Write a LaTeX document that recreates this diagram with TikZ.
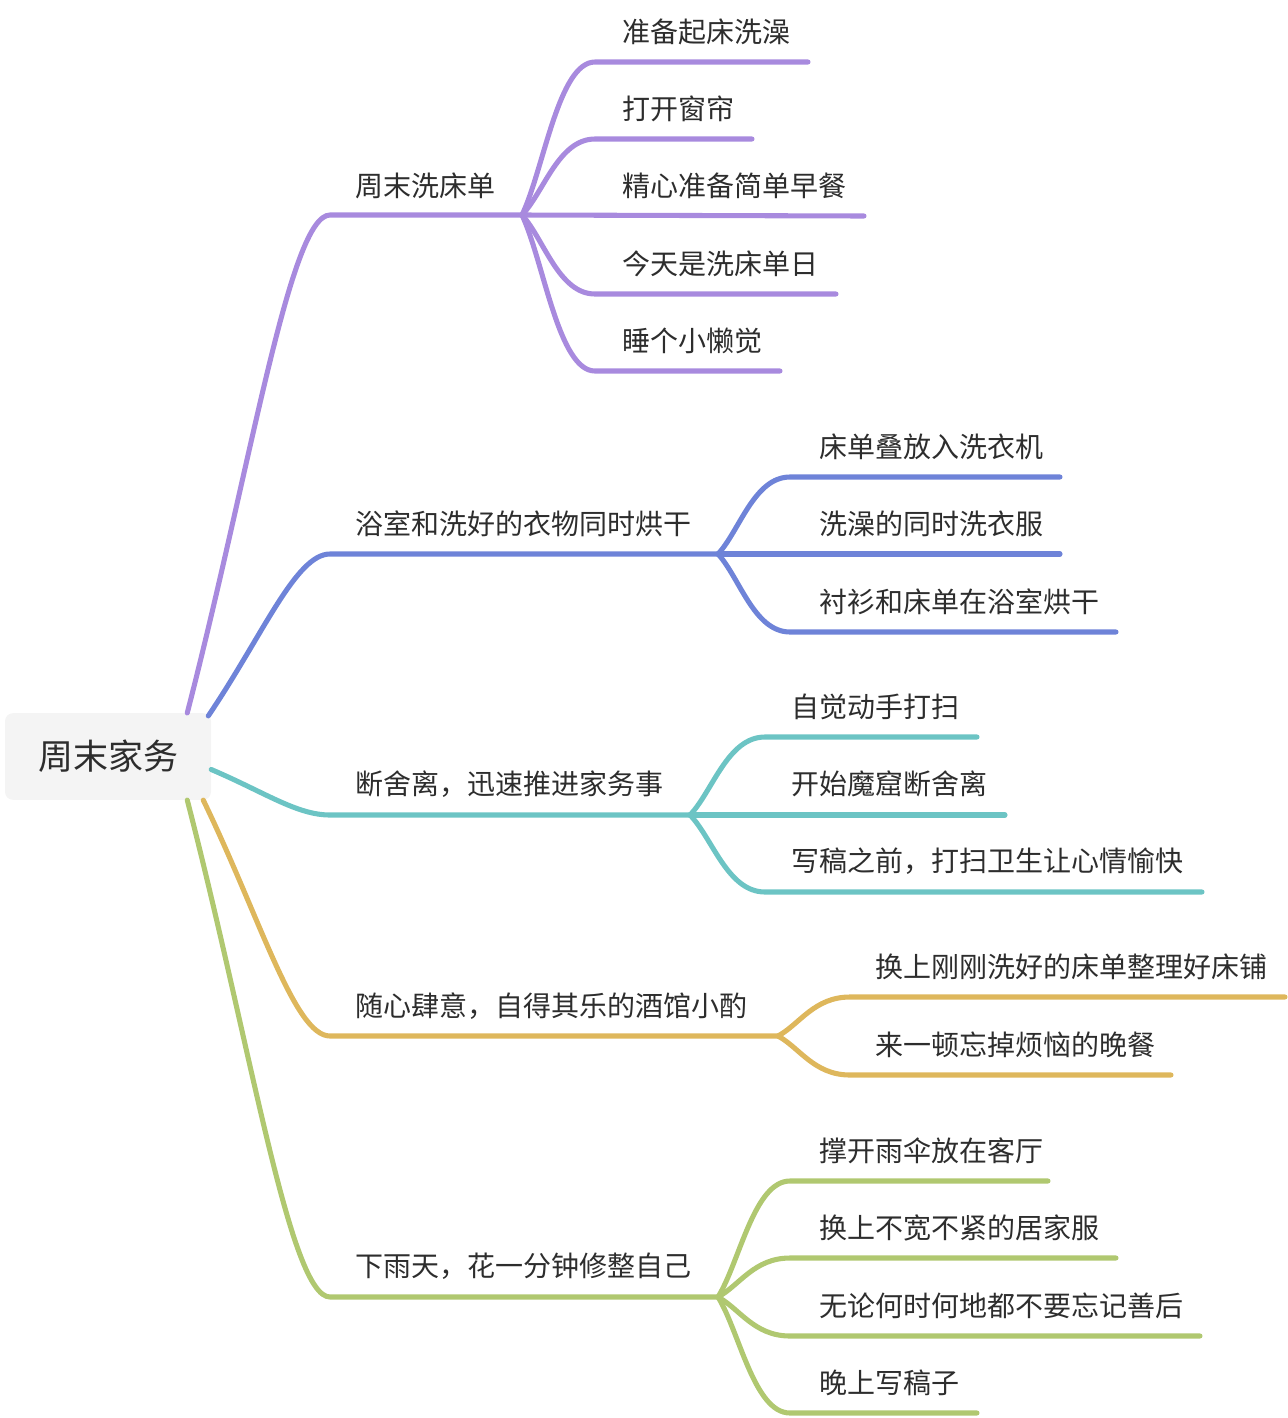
\documentclass[tikz,border=0pt]{standalone}
\usepackage{fontspec}
\setmainfont{Noto Sans CJK SC}
\usetikzlibrary{calc,positioning}
\definecolor{mPurple}{RGB}{168,138,222}
\definecolor{mBlue}{RGB}{110,131,216}
\definecolor{mTeal}{RGB}{108,196,196}
\definecolor{mGold}{RGB}{222,183,92}
\definecolor{mGreen}{RGB}{176,200,112}
\definecolor{mText}{RGB}{45,45,45}
\definecolor{mRootFill}{RGB}{244,244,244}
\tikzset{
  topic/.style={anchor=base west, inner sep=0pt, text=mText, font=\fontsize{21}{25}\selectfont},
  link/.style={line width=3.8pt, line cap=round},
  topic link/.style={to path={let \p1=(\tikztostart), \p2=(\tikztotarget) in
    .. controls ({\x1+0.45*(\x2-\x1)},{0.5*(\y1+\y2)}) and ({\x2-0.28*(\x2-\x1)},\y2) .. (\tikztotarget)}},
  sub link/.style={to path={let \p1=(\tikztostart), \p2=(\tikztotarget) in
    .. controls ({\x1+0.3*(\x2-\x1)},{\y1+0.3*(\y2-\y1)}) and ({\x2-0.5*(\x2-\x1)},\y2) .. (\tikztotarget)}}
}

\begin{document}
\begin{tikzpicture}[x=0.75pt,y=-0.75pt]
    \useasboundingbox (0,0) rectangle (1288,1418);
    % Root
    \node[fill=mRootFill, rounded corners=6pt, minimum width=154.5pt, minimum height=65pt,
      inner sep=0pt, text=mText, font=\fontsize{26.25}{30}\selectfont] (root) at (108,756.5) {周末家务};

    % Branch 1
    \coordinate (b1s) at (330,215);
    \coordinate (b1f) at (522,215);
    \node[topic] (b1) at (355,196) {周末洗床单};
    \draw[link, mPurple] ($(root.north east)+(-24,0)$) to[topic link] (b1s) -- (b1f);
    \node[topic] (c11) at (622,42) {准备起床洗澡};
    \node[topic] (c12) at (622,119) {打开窗帘};
    \node[topic] (c13) at (622,196) {精心准备简单早餐};
    \node[topic] (c14) at (622,274) {今天是洗床单日};
    \node[topic] (c15) at (622,351) {睡个小懒觉};
    \draw[link, mPurple] (b1f) to[sub link] (595,62) -- (808,62);
    \draw[link, mPurple] (b1f) to[sub link] (595,139) -- (752,139);
    \draw[link, mPurple] (b1f) -- (864,216);
    \draw[link, mPurple] (b1f) to[sub link] (595,294) -- (836,294);
    \draw[link, mPurple] (b1f) to[sub link] (595,371) -- (780,371);

    % Branch 2
    \coordinate (b2s) at (330,554);
    \coordinate (b2f) at (718,554);
    \node[topic] (b2) at (355,534) {浴室和洗好的衣物同时烘干};
    \draw[link, mBlue] ($(root.north east)+(-3,3)$) to[topic link] (b2s) -- (b2f);
    \node[topic] (c21) at (819,457) {床单叠放入洗衣机};
    \node[topic] (c22) at (819,534) {洗澡的同时洗衣服};
    \node[topic] (c23) at (819,612) {衬衫和床单在浴室烘干};
    \draw[link, mBlue] (b2f) to[sub link] (790,477) -- (1060,477);
    \draw[link, mBlue] (b2f) -- (1060,554);
    \draw[link, mBlue] (b2f) to[sub link] (790,632) -- (1116,632);

    % Branch 3
    \coordinate (b3s) at (330,815);
    \coordinate (b3f) at (690,815);
    \node[topic] (b3) at (355,794) {断舍离，迅速推进家务事};
    \draw[link, mTeal] ($(root.east)+(0,13)$) to[topic link] (b3s) -- (b3f);
    \node[topic] (c31) at (791,717) {自觉动手打扫};
    \node[topic] (c32) at (791,794) {开始魔窟断舍离};
    \node[topic] (c33) at (791,871) {写稿之前，打扫卫生让心情愉快};
    \draw[link, mTeal] (b3f) to[sub link] (765,737) -- (977,737);
    \draw[link, mTeal] (b3f) -- (1005,815);
    \draw[link, mTeal] (b3f) to[sub link] (765,892) -- (1202,892);

    % Branch 4
    \coordinate (b4s) at (330,1036);
    \coordinate (b4f) at (778,1036);
    \node[topic] (b4) at (355,1016) {随心肆意，自得其乐的酒馆小酌};
    \draw[link, mGold] ($(root.south east)+(-8,0)$) to[topic link] (b4s) -- (b4f);
    \node[topic] (c41) at (875,977) {换上刚刚洗好的床单整理好床铺};
    \node[topic] (c42) at (875,1055) {来一顿忘掉烦恼的晚餐};
    \draw[link, mGold] (b4f) to[sub link] (850,997) -- (1285,997);
    \draw[link, mGold] (b4f) to[sub link] (850,1075) -- (1171,1075);

    % Branch 5
    \coordinate (b5s) at (330,1297);
    \coordinate (b5f) at (718,1297);
    \node[topic] (b5) at (355,1276) {下雨天，花一分钟修整自己};
    \draw[link, mGreen] ($(root.south east)+(-24,0)$) to[topic link] (b5s) -- (b5f);
    \node[topic] (c51) at (819,1161) {撑开雨伞放在客厅};
    \node[topic] (c52) at (819,1238) {换上不宽不紧的居家服};
    \node[topic] (c53) at (819,1316) {无论何时何地都不要忘记善后};
    \node[topic] (c54) at (819,1393) {晚上写稿子};
    \draw[link, mGreen] (b5f) to[sub link] (790,1181) -- (1048,1181);
    \draw[link, mGreen] (b5f) to[sub link] (790,1258) -- (1116,1258);
    \draw[link, mGreen] (b5f) to[sub link] (790,1336) -- (1200,1336);
    \draw[link, mGreen] (b5f) to[sub link] (790,1413) -- (977,1413);
  \end{tikzpicture}
\end{document}
